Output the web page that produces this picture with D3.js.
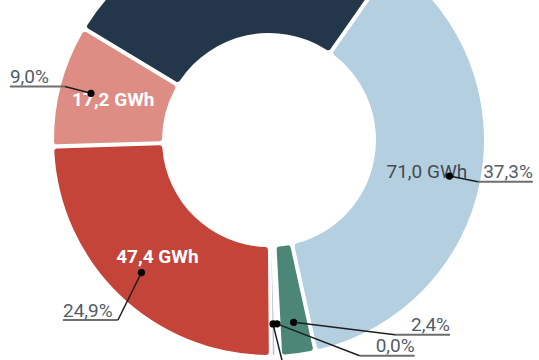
<!DOCTYPE html>
<html>
<head>
<meta charset="utf-8">
<script src="https://cdn.jsdelivr.net/npm/d3@7"></script>
<style>
  html, body { margin: 0; padding: 0; background: #fff; }
  svg { display: block; font-family: Roboto, "Noto Sans", sans-serif; }
</style>
</head>
<body>
<svg id="chart" width="539" height="360"></svg>
<script>
// ---- data ----
const categories = ["Navy", "Light blue", "Green", "Zero A", "Zero B", "Red", "Pink"];
const valuesGWh  = [50.2, 71.0, 4.6, 0.0, 0.04, 47.4, 17.2];
const colors     = ["#24374a", "#b3cfe0", "#4b8677", "#ffffff", "#b8c3cb", "#c4443a", "#de8d85"];
const innerTextColors = ["#ffffff", "#454b52", "#ffffff", "#ffffff", "#ffffff", "#ffffff", "#ffffff"];
const innerTextWeights = [700, 400, 700, 700, 700, 700, 700];

// ---- layout (annotation placement, not data) ----
// elbow of each outside label: angle in degrees (null = slice mid-angle) and radius
const labelElbowAngle  = [null, null, 147.1, 157.2, 175.0, 220.0, null];
const labelElbowRadius = [213, 213, 232, 234, 261, 235, 211];

const W = 539, H = 360;
const cx = 269, cy = 140;
const rOuter = 215, rInner = 107;
const startDeg = 35 - (50.2 / 190.44) * 360 - 0.955; // navy begins so that light blue starts at 35°
const total = d3.sum(valuesGWh);
const minShown = 0.3;

const svg = d3.select("#chart");
const g = svg.append("g").attr("transform", `translate(${cx},${cy})`);

const rad = d => d * Math.PI / 180;

const pie = d3.pie()
  .sort(null)
  .value(d => d.v > 0 ? Math.max(d.v, minShown) : 0)
  .startAngle(rad(301.1 - 360))
  .endAngle(rad(301.1))
  .padAngle(0.0167);

const data = categories.map((c, i) => ({
  name: c, v: valuesGWh[i], color: colors[i],
  tc: innerTextColors[i], tw: innerTextWeights[i],
  la: labelElbowAngle[i], lr: labelElbowRadius[i]
}));

const arcs = pie(data);

const arc = d3.arc().innerRadius(rInner).outerRadius(rOuter).cornerRadius(3);

g.selectAll("path.slice")
  .data(arcs)
  .join("path")
  .attr("class", "slice")
  .attr("d", arc)
  .attr("fill", d => d.data.color);

const fmt1 = v => d3.format(".1f")(v).replace(".", ",");
const polar = (angDeg, r) => [r * Math.sin(rad(angDeg)), -r * Math.cos(rad(angDeg))];
const midDeg = d => ((d.startAngle + d.endAngle) / 2) * 180 / Math.PI;

// inner value labels (only for slices wide enough)
const centroidArc = d3.arc().innerRadius(rInner).outerRadius(rOuter);
g.selectAll("text.inner")
  .data(arcs.filter(d => (d.endAngle - d.startAngle) > rad(20)))
  .join("text")
  .attr("class", "inner")
  .attr("x", d => centroidArc.centroid(d)[0])
  .attr("y", d => centroidArc.centroid(d)[1])
  .attr("dy", "0.36em")
  .attr("text-anchor", "middle")
  .attr("font-size", 19)
  .attr("font-weight", d => d.data.tw)
  .attr("fill", d => d.data.tc)
  .text(d => fmt1(d.data.v) + " GWh");

// outside percentage labels with leader lines
const dotR = 184;
const underLen = 55;
const lab = g.selectAll("g.lab")
  .data(arcs)
  .join("g")
  .attr("class", "lab");

lab.each(function(d) {
  const sel = d3.select(this);
  const m = midDeg(d);
  const dot = polar(m, dotR);
  const ea = d.data.la == null ? m : d.data.la;
  const elbow = polar(ea, d.data.lr);
  const right = Math.sin(rad(ea)) >= 0;
  const endX = elbow[0] + (right ? underLen : -underLen);

  sel.append("line")
    .attr("x1", elbow[0]).attr("y1", elbow[1])
    .attr("x2", endX).attr("y2", elbow[1])
    .attr("stroke", "#6e6e6e").attr("stroke-width", 2);
  sel.append("line")
    .attr("x1", dot[0]).attr("y1", dot[1])
    .attr("x2", elbow[0]).attr("y2", elbow[1])
    .attr("stroke", "#1e1e1e").attr("stroke-width", 1.5);
  sel.append("circle")
    .attr("cx", dot[0]).attr("cy", dot[1])
    .attr("r", 3.6).attr("fill", "#000");
  sel.append("text")
    .attr("x", endX)
    .attr("y", elbow[1] - 3.5)
    .attr("text-anchor", right ? "end" : "start")
    .attr("font-size", 19)
    .attr("fill", "#525d68")
    .text(fmt1(d.data.v / total * 100) + "%");
});
</script>
</body>
</html>
